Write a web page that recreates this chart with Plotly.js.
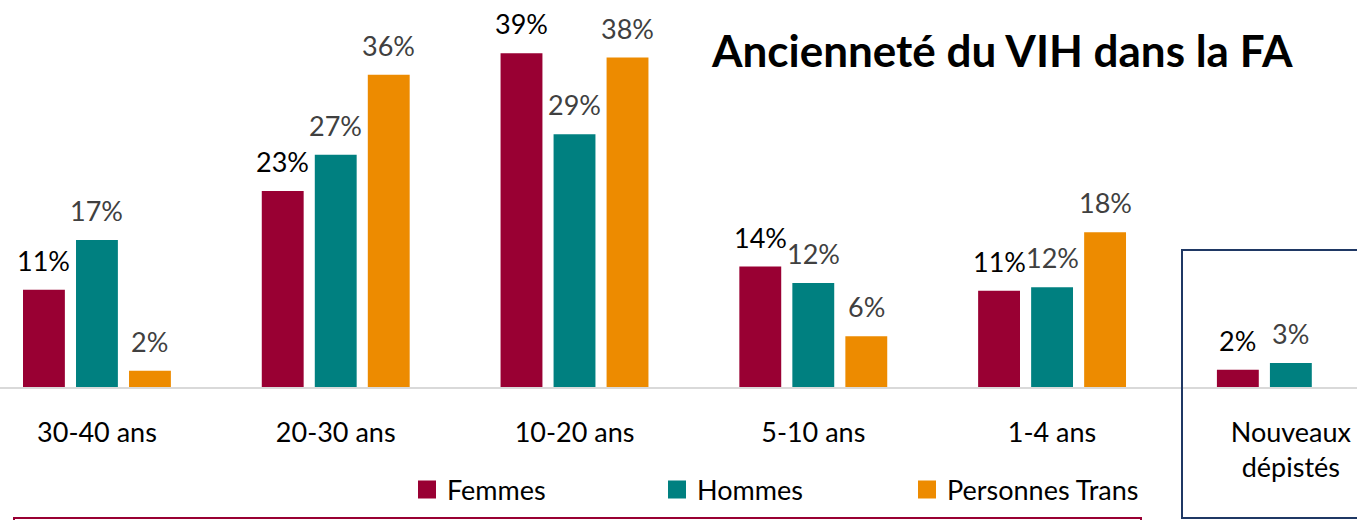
<!DOCTYPE html>
<html>
<head>
<meta charset="utf-8">
<script src="https://cdn.plot.ly/plotly-3.0.1.min.js"></script>
<style>html,body{margin:0;padding:0;background:#fff;}#chart{width:1357px;height:520px;}</style>
</head>
<body>
<div id="chart"></div>
<script>
// ---- data ----
var categories = ['30-40 ans', '20-30 ans', '10-20 ans', '5-10 ans', '1-4 ans', 'Nouveaux<br>dépistés'];
var seriesNames = ['Femmes', 'Hommes', 'Personnes Trans'];
var femmes = [11.3, 22.8, 38.8, 14.0, 11.2, 2.0];
var hommes = [17.1, 27.0, 29.4, 12.1, 11.6, 2.8];
var trans  = [1.9, 36.3, 38.3, 5.9, 18.0, null];
var titleText = 'Ancienneté du VIH dans la FA';

// ---- style ----
var colors = ['#990033', '#008080', '#ED8B00'];
var labelColors = ['#000000', '#404040', '#404040'];
var FONT = 'Lato, "Open Sans", sans-serif';
var W = 1357, H = 520, B = 133, PH = H - B;
var BARGAP = 0.334, GROUPGAP = 0.21;
var XRANGE = [-0.406, 5.277];
function px(x) { return x / W; }
function py(y) { return (PH - y) / PH; }

var values = [femmes, hommes, trans];
var traces = values.map(function (v, i) {
  return {
    type: 'bar', name: seriesNames[i], x: categories, y: v,
    marker: { color: colors[i] },
    showlegend: false, hoverinfo: 'skip'
  };
});
// legend entries
seriesNames.forEach(function (n, i) {
  traces.push({
    type: 'scatter', mode: 'markers', name: n, x: [null], y: [null],
    marker: { symbol: 'square', size: 16, color: colors[i], line: { width: 2, color: colors[i] } },
    showlegend: true, hoverinfo: 'skip'
  });
});

// value labels: anchored at each bar's (category, value), shifted to its group slot
var catPx = W / (XRANGE[1] - XRANGE[0]);
var slotPx = catPx * (1 - BARGAP) / values.length;
var annotations = [];
values.forEach(function (v, i) {
  v.forEach(function (val, j) {
    if (val === null) return;
    annotations.push({
      xref: 'x', yref: 'y', x: categories[j], y: val,
      text: Math.round(val) + '%', showarrow: false,
      xanchor: 'center', yanchor: 'bottom',
      xshift: (i - (values.length - 1) / 2) * slotPx, yshift: 11,
      font: { family: FONT, size: 27, color: labelColors[i] }
    });
  });
});
annotations.push({
  text: '<b>' + titleText + '</b>', xref: 'paper', yref: 'paper',
  x: px(1002), y: py(50), xanchor: 'center', yanchor: 'middle',
  showarrow: false, font: { family: FONT, size: 44, color: '#000000' }
});

var layout = {
  width: W, height: H,
  margin: { l: 0, r: 0, t: 0, b: B, pad: 0 },
  paper_bgcolor: '#ffffff', plot_bgcolor: '#ffffff',
  font: { family: FONT, color: '#000000' },
  barmode: 'group', bargap: BARGAP, bargroupgap: GROUPGAP,
  xaxis: {
    type: 'category', range: XRANGE, fixedrange: true,
    showline: true, linecolor: '#d9d9d9', linewidth: 1.5,
    showgrid: false, zeroline: false, ticks: '',
    ticklabelstandoff: 21,
    tickfont: { family: FONT, size: 27, color: '#000000' }
  },
  yaxis: { range: [0, 45], visible: false, fixedrange: true },
  showlegend: true,
  legend: {
    orientation: 'h', x: px(407), y: py(490), xanchor: 'left', yanchor: 'middle',
    font: { family: FONT, size: 27, color: '#000000' },
    entrywidth: 205, entrywidthmode: 'pixels', traceorder: 'normal',
    bgcolor: 'rgba(0,0,0,0)', borderwidth: 0
  },
  annotations: annotations,
  shapes: [
    { type: 'rect', xref: 'paper', yref: 'paper', x0: px(1182), x1: px(1400), y0: py(518), y1: py(250),
      line: { color: '#1F3864', width: 2 }, fillcolor: 'rgba(0,0,0,0)' },
    { type: 'rect', xref: 'paper', yref: 'paper', x0: px(14), x1: px(1141), y0: py(560), y1: py(518),
      line: { color: '#990033', width: 2 }, fillcolor: 'rgba(0,0,0,0)' }
  ]
};

Plotly.newPlot('chart', traces, layout, { displayModeBar: false, staticPlot: true });
</script>
</body>
</html>
